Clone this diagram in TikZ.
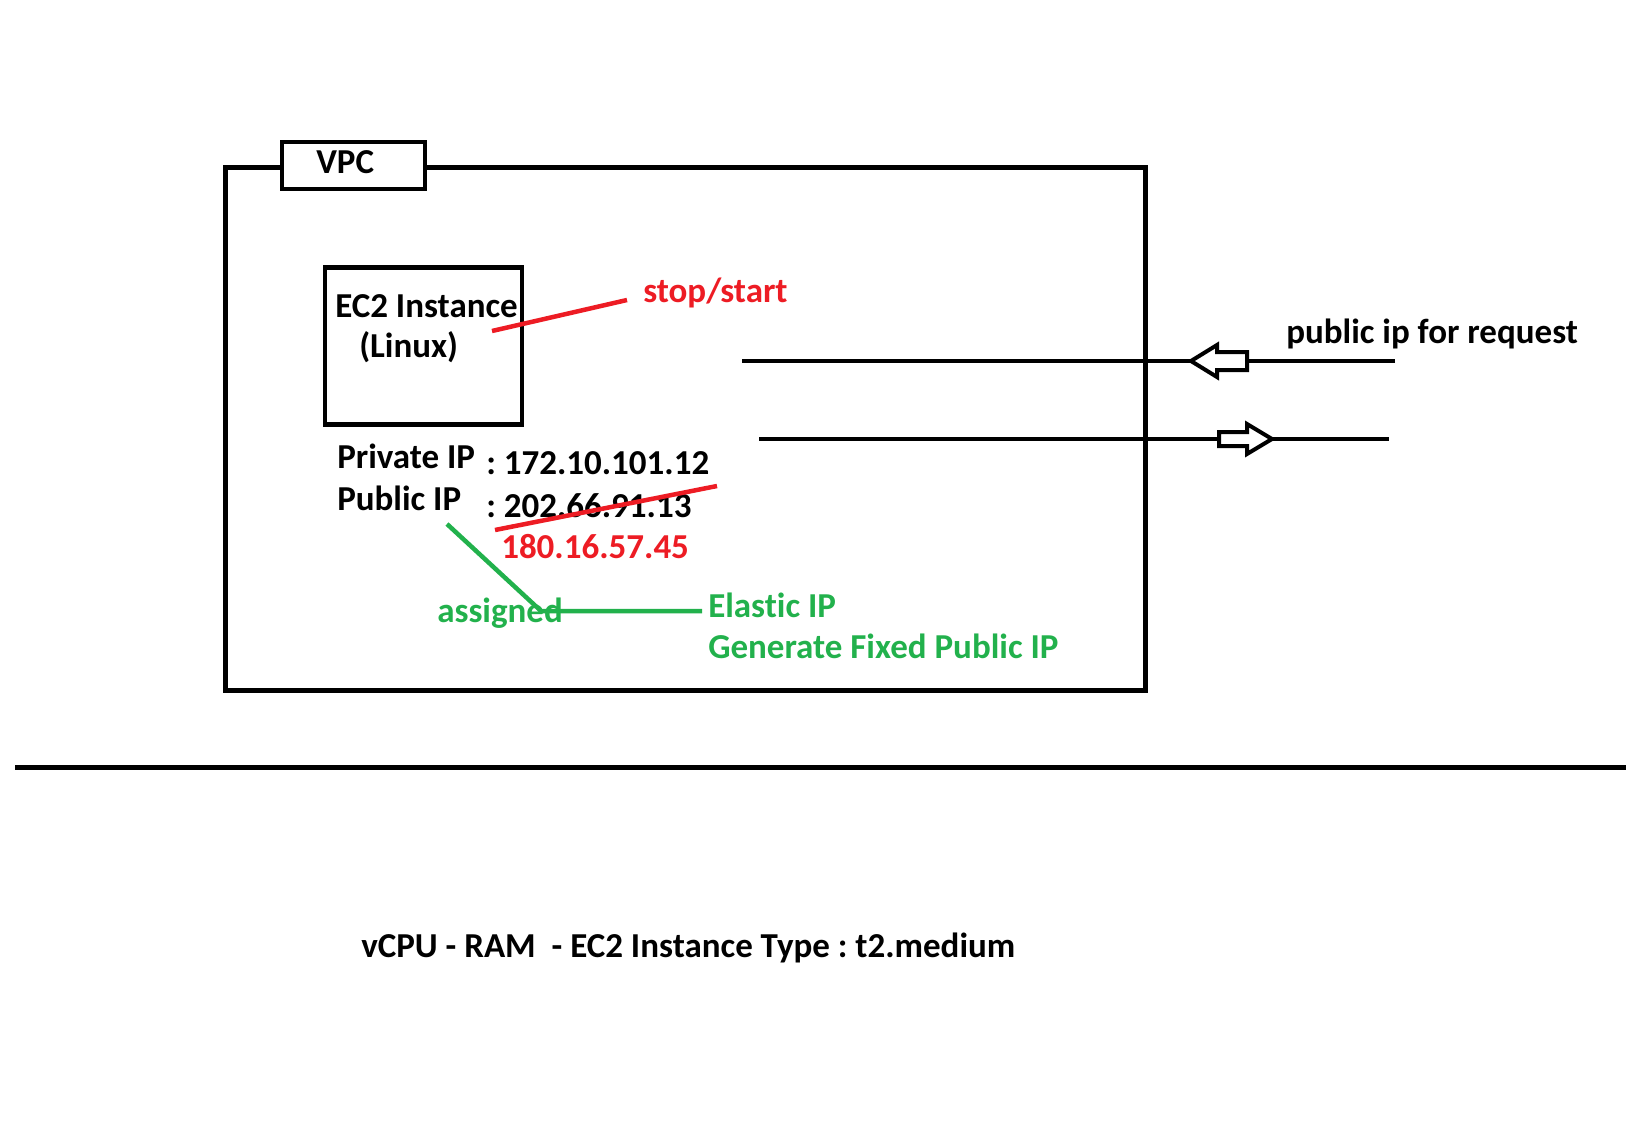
\documentclass[tikz,border=0pt]{standalone}
\usepackage{fontspec}
\setmainfont{Carlito}[Ligatures=NoCommon]
\usetikzlibrary{positioning}
\definecolor{paintred}{RGB}{237,28,36}
\definecolor{paintgreen}{RGB}{34,177,76}
\frenchspacing

\begin{document}
\begin{tikzpicture}[x=1pt,y=-1pt,line width=4.5pt,
  txt/.style={font=\fontsize{35}{42}\selectfont\bfseries,inner sep=0pt,anchor=base west},
  redtxt/.style={txt,text=paintred},
  greentxt/.style={txt,text=paintgreen},
  boxed/.style={draw,inner sep=0pt}]
\useasboundingbox (0,0) rectangle (1626,1128);

% VPC frame and its tag
\draw (225.5,167.5) rectangle (1145.5,690.5);
\node[boxed,fill=white,minimum width=143,minimum height=47] (vpctag) at (353.5,165.5) {};
\node[txt] (vpc) at (314,173) {VPC};

% the instance
\node[boxed,minimum width=197,minimum height=157] (ec2) at (423.5,346) {};
\node[txt] (ec2name) at (333,317) {EC2 Instance};
\node[txt] (ec2os) at (357,357) {(Linux)};

\node[redtxt] (stop) at (641,302) {stop/start};
\draw[paintred] (492,331) -- ([xshift=-14pt]stop.west |- 0,300);

% addresses
\node[txt] (privlbl) at (335,468) {Private IP};
\node[txt] (privip) at (484,474) {: 172.10.101.12};
\node[txt] (publbl) at (335,510) {Public IP};
\node[txt] (pubip) at (484,517) {: 202.66.91.13};
\node[redtxt] (newip) at (499,558) {180.16.57.45};
\draw[paintred] (495,530) -- (717,486);

% elastic ip
\node[greentxt] (assigned) at (435,622) {assigned};
\node[greentxt] (elastic) at (706,617) {Elastic IP};
\node[greentxt] (fixed) at (706,658) {Generate Fixed Public IP};
\coordinate (bend) at (541,611);
\draw[paintgreen] (447,524) -- (bend) -- ([xshift=-4pt]elastic.west |- bend);

% request and response
\coordinate (inL) at (742,361);
\coordinate (inR) at (1395,361);
\coordinate (outL) at (759,439);
\coordinate (outR) at (1389,439);
\draw (inR) -- (inL);
\draw (outL) -- (outR);
\draw[line width=4pt,fill=white] (1191,361) -- (1217,345) -- (1217,352) -- (1247,352)
  -- (1247,370) -- (1217,370) -- (1217,377) -- cycle;
\draw[line width=4pt,fill=white] (1272,439) -- (1247,424) -- (1247,432) -- (1219,432)
  -- (1219,446) -- (1247,446) -- (1247,454) -- cycle;
\node[txt] (request) at (1284,343) {public ip for request};

% lower part
\draw (15,767.5) -- (1626,767.5);
\node[txt] (itype) at (359,957) {vCPU - RAM\ \ - EC2 Instance Type : t2.medium};
\end{tikzpicture}
\end{document}
